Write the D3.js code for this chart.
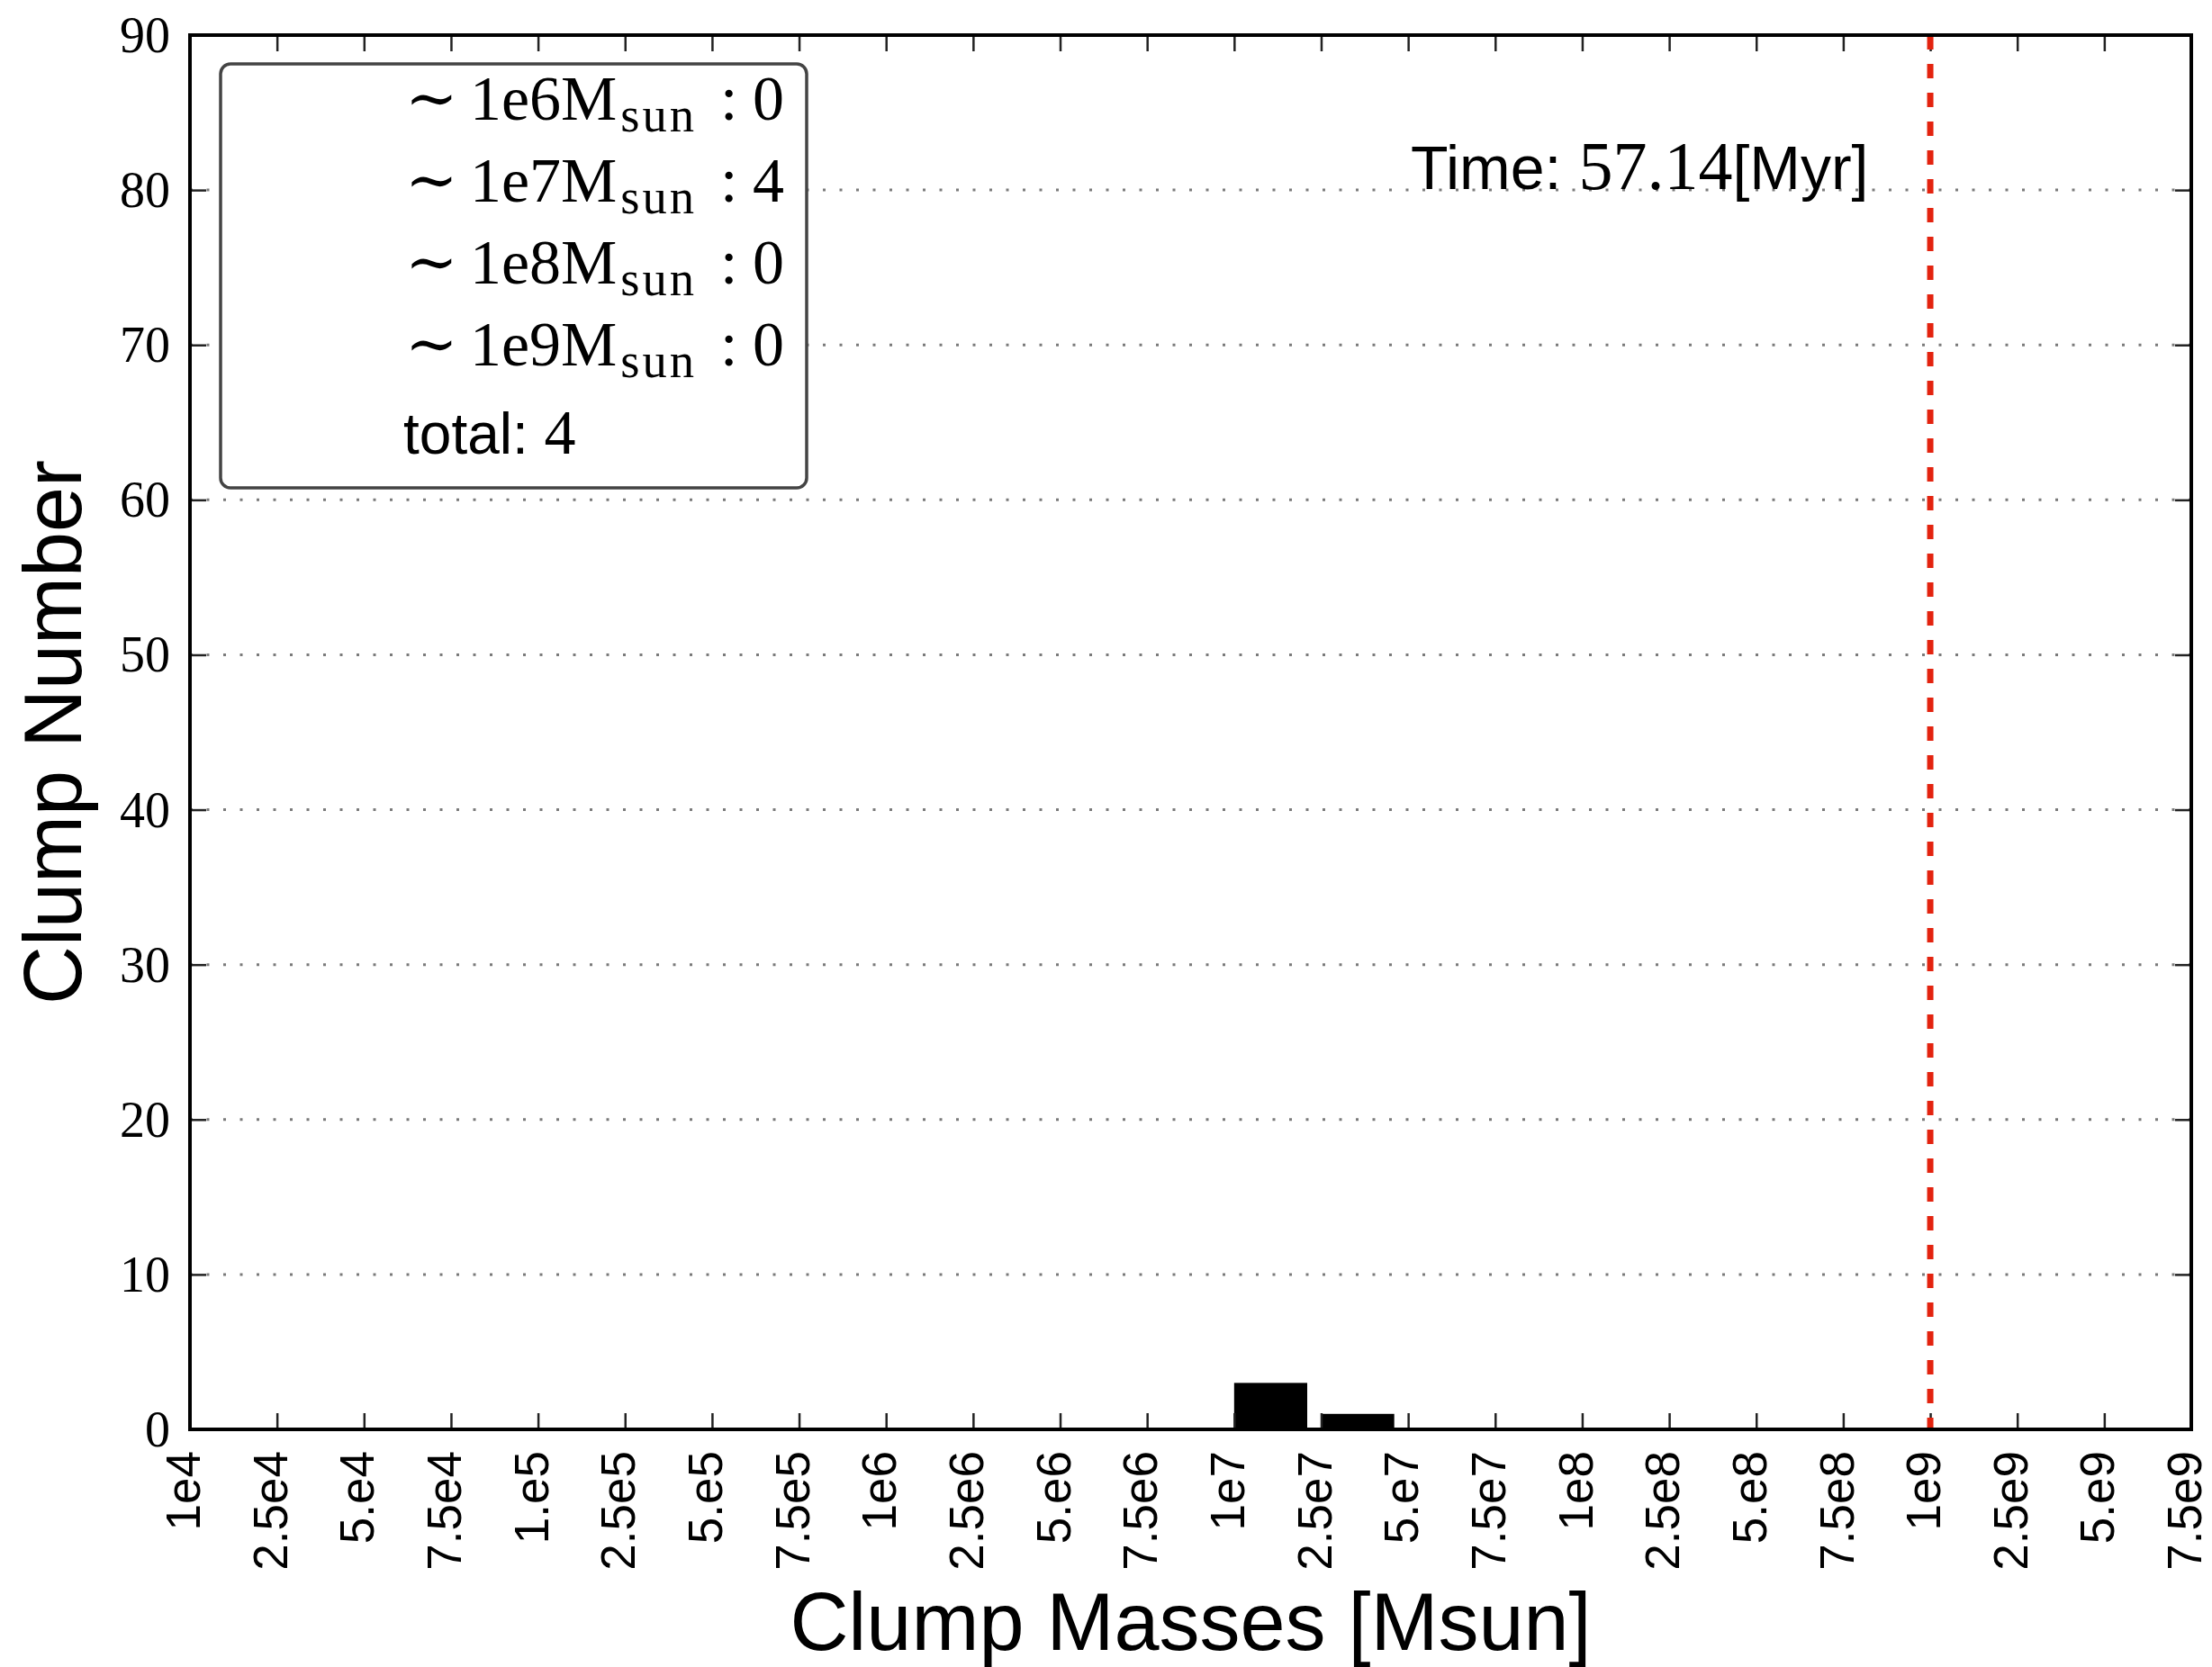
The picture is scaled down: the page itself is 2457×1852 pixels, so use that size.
<!DOCTYPE html>
<html>
<head>
<meta charset="utf-8">
<script src="https://cdn.jsdelivr.net/npm/d3@7"></script>
<style>
  body { margin: 0; background: #fff; }
  .serif { font-family: "Liberation Serif", "DejaVu Serif", serif; }
  .sans { font-family: "Liberation Sans", Arial, sans-serif; }
</style>
</head>
<body>
<div id="chart"></div>
<script>
var svgWidth = 2457;
var svgHeight = 1852;

var margin = { top: 39, right: 23, bottom: 264, left: 211 };
var width = svgWidth - margin.left - margin.right;
var height = svgHeight - margin.top - margin.bottom;

// mass bin edges (tick labels) and clump counts per bin
var massLabels = ["1e4", "2.5e4", "5.e4", "7.5e4", "1.e5", "2.5e5", "5.e5", "7.5e5",
  "1e6", "2.5e6", "5.e6", "7.5e6", "1e7", "2.5e7", "5.e7", "7.5e7",
  "1e8", "2.5e8", "5.e8", "7.5e8", "1e9", "2.5e9", "5.e9", "7.5e9"];
var binCounts = [0, 0, 0, 0, 0, 0, 0, 0, 0, 0, 0, 0, 3, 1, 0, 0, 0, 0, 0, 0, 0, 0, 0];
var yTicks = [0, 10, 20, 30, 40, 50, 60, 70, 80, 90];

// legend summary
var legendMasses = ["1e6", "1e7", "1e8", "1e9"];
var legendCounts = [0, 4, 0, 0];
var totalCount = 4;
var timeMyr = "57.14";
var cutoffMass = "1e9";

var svg = d3.select("#chart").append("svg")
  .attr("width", svgWidth)
  .attr("height", svgHeight);

var chartGroup = svg.append("g")
  .attr("transform", `translate(${margin.left}, ${margin.top})`);

var xScale = d3.scaleLinear().domain([0, massLabels.length - 1]).range([0, width]);
var yScale = d3.scaleLinear().domain([0, 90]).range([height, 0]);

// dotted grid
chartGroup.append("g")
  .selectAll("line")
  .data(yTicks.filter(d => d > 0 && d < 90))
  .enter()
  .append("line")
  .attr("x1", 0)
  .attr("x2", width)
  .attr("y1", d => yScale(d))
  .attr("y2", d => yScale(d))
  .attr("stroke", "#7a7a7a")
  .attr("stroke-width", 3)
  .attr("stroke-dasharray", "3,15.5");

// bars
var barWidth = 0.84;
chartGroup.append("g")
  .selectAll("rect")
  .data(binCounts.map((c, i) => ({ i: i, c: c })).filter(d => d.c > 0))
  .enter()
  .append("rect")
  .attr("x", d => xScale(d.i))
  .attr("width", d => xScale(d.i + barWidth) - xScale(d.i))
  .attr("y", d => yScale(d.c))
  .attr("height", d => yScale(0) - yScale(d.c))
  .attr("fill", "#000");

// axes with inward ticks
var tickLen = 18;
var bottomAxis = d3.axisBottom(xScale)
  .tickValues(d3.range(massLabels.length))
  .tickFormat(i => massLabels[i])
  .tickSizeInner(-tickLen)
  .tickSizeOuter(0)
  .tickPadding(0);

var xAxis = chartGroup.append("g")
  .attr("transform", `translate(0, ${height})`)
  .call(bottomAxis);

xAxis.selectAll("text")
  .attr("class", "sans")
  .attr("font-size", 53)
  .attr("fill", "#000")
  .attr("text-anchor", "end")
  .attr("transform", "rotate(-90)")
  .attr("x", -24)
  .attr("y", 0)
  .attr("dy", "0.2em");

var topAxis = d3.axisTop(xScale)
  .tickValues(d3.range(massLabels.length))
  .tickFormat("")
  .tickSizeInner(-tickLen)
  .tickSizeOuter(0);
chartGroup.append("g").call(topAxis);

var leftAxis = d3.axisLeft(yScale)
  .tickValues(yTicks)
  .tickSizeInner(-tickLen)
  .tickSizeOuter(0)
  .tickPadding(22);
var yAxis = chartGroup.append("g").call(leftAxis);
yAxis.selectAll("text")
  .attr("class", "serif")
  .attr("font-size", 56)
  .attr("fill", "#000")
  .attr("dy", "0.33em");

var rightAxis = d3.axisRight(yScale)
  .tickValues(yTicks)
  .tickFormat("")
  .tickSizeInner(-tickLen)
  .tickSizeOuter(0);
chartGroup.append("g")
  .attr("transform", `translate(${width}, 0)`)
  .call(rightAxis);

chartGroup.selectAll(".domain").remove();
chartGroup.selectAll(".tick line")
  .attr("stroke", "#222")
  .attr("stroke-width", 2.5);

// red cutoff line
var cutX = xScale(massLabels.indexOf(cutoffMass));
chartGroup.append("line")
  .attr("x1", cutX)
  .attr("x2", cutX)
  .attr("y1", 0)
  .attr("y2", height)
  .attr("stroke", "#e3230f")
  .attr("stroke-width", 7)
  .attr("stroke-dasharray", "16,16");

// frame
chartGroup.append("rect")
  .attr("width", width)
  .attr("height", height)
  .attr("fill", "none")
  .attr("stroke", "#000")
  .attr("stroke-width", 4);

// legend box
var legend = svg.append("g");
legend.append("rect")
  .attr("x", 245)
  .attr("y", 71)
  .attr("width", 651)
  .attr("height", 471)
  .attr("rx", 11)
  .attr("fill", "#fff")
  .attr("stroke", "#444")
  .attr("stroke-width", 3.5);

var legendFont = 70;
legendMasses.forEach(function(m, i) {
  var t = legend.append("text")
    .attr("class", "serif")
    .attr("x", 450)
    .attr("y", 133 + i * 91)
    .attr("font-size", legendFont)
    .attr("fill", "#000");
  t.append("tspan").text("\u223C");
  t.append("tspan").attr("x", 522).text(m + "M");
  t.append("tspan")
    .attr("font-size", legendFont * 0.78)
    .attr("letter-spacing", 3)
    .attr("dx", 4)
    .attr("dy", 13)
    .text("sun");
  t.append("tspan").attr("dy", -13).attr("x", 800).text(":");
  t.append("tspan").attr("x", 836).text(legendCounts[i]);
});

var totalText = legend.append("text")
  .attr("x", 448)
  .attr("y", 504)
  .attr("font-size", 64)
  .attr("fill", "#000");
totalText.append("tspan").attr("class", "sans").text("total: ");
totalText.append("tspan").attr("class", "serif").attr("font-size", 70).text(totalCount);

// time stamp
var timeText = svg.append("text")
  .attr("x", 1567)
  .attr("y", 210)
  .attr("font-size", 68)
  .attr("fill", "#000");
timeText.append("tspan").attr("class", "sans").text("Time: ");
timeText.append("tspan").attr("class", "serif").attr("font-size", 76).text(timeMyr);
timeText.append("tspan").attr("class", "sans").text("[Myr]");

// axis titles
svg.append("text")
  .attr("class", "sans")
  .attr("x", margin.left + width / 2)
  .attr("y", 1833)
  .attr("text-anchor", "middle")
  .attr("font-size", 90)
  .attr("fill", "#000")
  .text("Clump Masses [Msun]");

svg.append("text")
  .attr("class", "sans")
  .attr("transform", `translate(90, ${margin.top + height / 2}) rotate(-90)`)
  .attr("text-anchor", "middle")
  .attr("font-size", 90)
  .attr("fill", "#000")
  .text("Clump Number");
</script>
</body>
</html>
